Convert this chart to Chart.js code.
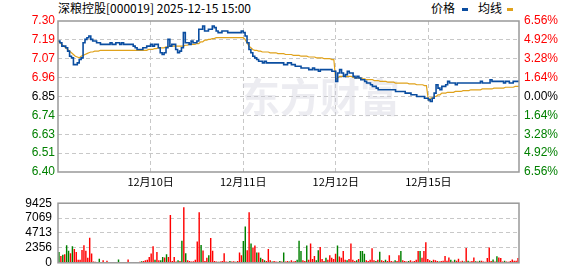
<!DOCTYPE html>
<html><head><meta charset="utf-8">
<script src="https://cdn.jsdelivr.net/npm/chart.js@4"></script>
<style>
body{margin:0;background:#fff;width:578px;height:276px;overflow:hidden;position:relative;font-family:"Noto Sans CJK SC",sans-serif}
.t{position:absolute;font-size:12px;line-height:16px;color:#000;white-space:nowrap}
.mk{position:absolute;width:6px;height:3px}
canvas{position:absolute;left:0}
</style></head><body>
<div class="t" id="title" style="left:58px;top:0px"></div>
<div class="t" id="lg1" style="left:431px;top:0px"></div>
<div class="mk" style="left:462px;top:8px;background:#0a4da0"></div>
<div class="t" id="lg2" style="left:478px;top:0px"></div>
<div class="mk" style="left:507px;top:8px;background:#e0a21c"></div>
<canvas id="pc" width="578" height="190" style="top:0"></canvas>
<canvas id="vc" width="578" height="86" style="top:190px"></canvas>
<script>
const stockTitle = '深粮控股[000019] 2025-12-15 15:00';
const legendNames = ['价格', '均线'];
const dayLabels = ['12月10日', '12月11日', '12月12日', '12月15日'];
const priceTickLabels = ['7.30','7.19','7.07','6.96','6.85','6.74','6.63','6.51','6.40'];
const pctTickLabels = ['6.56%','4.92%','3.28%','1.64%','0.00%','1.64%','3.28%','4.92%','6.56%'];
const volTickLabels = ['0','2356','4713','7069','9425'];
const preClose = 6.85;
const limitPct = 0.0656;
const volMax = 9425;

// 48 samples per trading day (price / average line)
const priceDec09 = [7.18,7.17,7.15,7.15,7.14,7.12,7.09,7.08,7.04,7.04,7.05,7.07,7.08,7.17,7.19,7.20,7.21,7.19,7.18,7.18,7.17,7.17,7.16,7.16,7.16,7.16,7.16,7.17,7.16,7.16,7.17,7.17,7.16,7.17,7.16,7.16,7.16,7.16,7.16,7.15,7.14,7.13,7.13,7.13,7.14,7.14,7.15,7.15];
const priceDec10 = [7.16,7.15,7.16,7.16,7.14,7.11,7.10,7.11,7.14,7.19,7.15,7.16,7.16,7.13,7.11,7.12,7.14,7.23,7.17,7.17,7.16,7.18,7.17,7.17,7.18,7.25,7.25,7.27,7.24,7.24,7.25,7.25,7.27,7.26,7.24,7.23,7.23,7.24,7.24,7.24,7.23,7.23,7.23,7.23,7.23,7.23,7.23,7.24];
const priceDec11 = [7.23,7.21,7.17,7.13,7.11,7.09,7.08,7.07,7.06,7.06,7.05,7.06,7.05,7.05,7.05,7.05,7.05,7.05,7.05,7.05,7.05,7.04,7.04,7.05,7.05,7.04,7.04,7.03,7.03,7.03,7.02,7.02,7.02,7.02,7.01,7.01,7.02,7.01,7.01,7.00,7.01,7.01,7.01,7.01,7.01,7.01,7.00,7.00];
const priceDec12 = [6.94,6.99,7.01,6.99,6.97,6.98,7.00,6.99,6.99,6.97,6.96,6.97,6.96,6.95,6.95,6.94,6.93,6.93,6.92,6.91,6.91,6.90,6.89,6.89,6.89,6.89,6.89,6.89,6.89,6.89,6.89,6.88,6.88,6.88,6.88,6.88,6.87,6.87,6.87,6.86,6.86,6.86,6.85,6.85,6.85,6.85,6.84,6.84];
const priceDec15 = [6.83,6.82,6.84,6.87,6.92,6.90,6.89,6.91,6.91,6.92,6.94,6.93,6.93,6.93,6.92,6.93,6.93,6.93,6.93,6.93,6.93,6.93,6.93,6.93,6.93,6.93,6.93,6.94,6.93,6.93,6.93,6.93,6.95,6.94,6.94,6.94,6.94,6.94,6.94,6.93,6.94,6.94,6.93,6.93,6.94,6.94,6.94,6.94];

const avgDec09 = [7.18,7.17,7.16,7.15,7.14,7.13,7.12,7.11,7.10,7.09,7.085,7.08,7.09,7.095,7.10,7.105,7.11,7.115,7.115,7.12,7.12,7.12,7.125,7.125,7.125,7.125,7.125,7.125,7.125,7.125,7.125,7.125,7.125,7.125,7.125,7.125,7.125,7.125,7.125,7.125,7.125,7.125,7.125,7.125,7.125,7.125,7.125,7.13];
const avgDec10 = [7.13,7.13,7.135,7.135,7.14,7.14,7.14,7.14,7.145,7.145,7.15,7.15,7.15,7.15,7.15,7.15,7.15,7.15,7.155,7.155,7.16,7.16,7.16,7.16,7.165,7.165,7.175,7.175,7.185,7.185,7.19,7.19,7.195,7.195,7.20,7.20,7.20,7.20,7.20,7.20,7.20,7.20,7.20,7.20,7.20,7.20,7.20,7.20];
const avgDec11 = [7.20,7.19,7.17,7.15,7.14,7.13,7.125,7.125,7.12,7.12,7.115,7.115,7.115,7.115,7.11,7.11,7.11,7.11,7.105,7.105,7.105,7.105,7.10,7.10,7.10,7.10,7.095,7.095,7.095,7.095,7.09,7.09,7.09,7.09,7.085,7.085,7.085,7.085,7.08,7.08,7.08,7.08,7.075,7.075,7.075,7.075,7.07,7.07];
const avgDec12 = [6.95,6.96,6.97,6.97,6.97,6.97,6.97,6.97,6.97,6.965,6.96,6.96,6.96,6.96,6.955,6.955,6.95,6.95,6.95,6.95,6.945,6.945,6.945,6.94,6.94,6.94,6.94,6.935,6.935,6.935,6.935,6.93,6.93,6.93,6.93,6.93,6.93,6.93,6.925,6.925,6.925,6.925,6.92,6.92,6.92,6.92,6.915,6.915];
const avgDec15 = [6.83,6.84,6.84,6.85,6.85,6.86,6.86,6.87,6.87,6.87,6.875,6.875,6.875,6.875,6.88,6.88,6.88,6.88,6.885,6.885,6.885,6.885,6.89,6.89,6.89,6.89,6.89,6.89,6.895,6.895,6.895,6.895,6.895,6.895,6.90,6.90,6.90,6.90,6.90,6.90,6.905,6.905,6.905,6.905,6.905,6.91,6.91,6.91];

const volDec09 = [1700,1060,1275,1360,2760,1900,1500,2630,2200,1700,500,500,2040,2760,1900,800,3950,1490,200,150,100,640,100,420,100,340,100,80,100,60,100,510,80,100,60,100,510,80,100,60,120,100,150,250,300,420,500,935];
const volDec10 = [1490,2630,500,1700,420,420,935,850,1360,935,7560,300,900,200,400,300,3500,8770,1510,400,300,200,250,500,3370,8000,2800,1940,300,800,1200,3930,1900,300,200,150,200,300,1500,200,150,300,200,250,150,300,1640,1200];
const volDec11 = [3450,5750,2000,8000,3070,2400,2720,1640,1640,800,600,400,300,2200,400,200,300,200,150,300,200,1640,200,300,200,400,200,300,500,3500,1860,400,300,2720,500,3070,600,1080,400,1990,2500,600,300,780,500,1210,800,600];
const volDec12 = [1430,2720,1000,800,1860,500,400,600,3070,500,300,400,600,1860,1860,1430,400,300,500,2290,400,300,500,1730,400,300,500,300,1210,300,200,400,300,1210,1860,400,300,200,300,400,200,300,500,1860,1860,800,1860,3240];
const volDec15 = [600,400,300,500,400,300,200,300,340,1060,340,850,500,200,500,340,640,200,340,200,2340,340,200,300,850,250,200,340,340,200,150,765,2420,300,510,200,1020,850,765,200,340,200,150,300,510,340,340,765];
// r = up (red), g = down (green)
const dirDec09 = 'grgrggrgrr'+'rrrrrrrrrr'+'ggrrrrrgrr'+'rgrgrrrrgr'+'rgrgrrrr';
const dirDec10 = 'rrgrrggrgr'+'rrrrgrgrgr'+'rrrrrrgrrr'+'grrrrgrrrr'+'rgrrgrrr';
const dirDec11 = 'ggrrgrrgrg'+'rgrrrgrrrg'+'rgrrgrrrgg'+'grrgrrrrgg'+'rrrgrrrr';
const dirDec12 = 'rgrrrrgrrr'+'rgrgggrrrr'+'rgrgrrgrrr'+'rgrrgrrrgr'+'rrrrgrrr';
const dirDec15 = 'rrgrrrgrrr'+'rrgrgrrrrg'+'rgrrrgrgrr'+'rrrrgrgrrr'+'grrrrrrr';

const perDay = 48;
const price = [].concat(priceDec09, priceDec10, priceDec11, priceDec12, priceDec15);
const avg = [].concat(avgDec09, avgDec10, avgDec11, avgDec12, avgDec15);
const vol = [].concat(volDec09, volDec10, volDec11, volDec12, volDec15);
const dir = (dirDec09 + dirDec10 + dirDec11 + dirDec12 + dirDec15).split('');

document.getElementById('title').textContent = stockTitle;
document.getElementById('lg1').textContent = legendNames[0];
document.getElementById('lg2').textContent = legendNames[1];

const RED = '#ff0000', GREEN = '#008000', GRID = '#c8c8c8';
const numFont = {family: '"Liberation Sans", Arial, sans-serif', size: 12};
const cjkFont = {family: '"Noto Sans CJK SC", sans-serif', size: 11};

const frame = {
  id: 'frame',
  afterDraw(c) {
    const a = c.chartArea, ctx = c.ctx;
    ctx.save(); ctx.strokeStyle = '#999'; ctx.lineWidth = 1.5;
    ctx.strokeRect(a.left, a.top, a.right - a.left, a.bottom - a.top);
    ctx.restore();
  }
};
const watermark = {
  id: 'watermark',
  beforeDatasetsDraw(c) {
    const ctx = c.ctx; ctx.save();
    ctx.fillStyle = 'rgba(205,205,218,0.38)';
    ctx.font = 'bold 40px "Noto Sans CJK SC"';
    ctx.textBaseline = 'middle';
    ctx.fillText('东方财富', 240, 97);
    ctx.restore();
  }
};

const pMin = preClose * (1 - limitPct), pMax = preClose * (1 + limitPct);
const levelColor = (k) => k > 4 ? RED : (k === 4 ? '#000' : GREEN);

new Chart(document.getElementById('pc'), {
  type: 'line',
  data: {
    datasets: [
      {data: price.map((v, i) => ({x: i, y: v})), borderColor: '#0a4da0', borderWidth: 1.6, pointRadius: 0, stepped: true, yAxisID: 'y'},
      {data: avg.map((v, i) => ({x: i, y: v})), borderColor: '#e0a21c', borderWidth: 1.2, pointRadius: 0, yAxisID: 'y'}
    ]
  },
  options: {
    responsive: false, animation: false, events: [],
    layout: {padding: {top: 21, left: 0, right: 0, bottom: 0}},
    plugins: {legend: {display: false}, tooltip: {enabled: false}},
    scales: {
      x: {
        type: 'linear', min: 0, max: price.length - 1,
        afterBuildTicks: s => { s.ticks = dayLabels.map((d, i) => ({value: (i + 1) * perDay})); },
        afterFit: s => { s.height = 18; },
        ticks: {callback: (v, i) => dayLabels[i], color: '#000', font: cjkFont, padding: 3, maxRotation: 0, autoSkip: false},
        grid: {color: GRID, drawTicks: false, lineWidth: 1},
        border: {display: false, dash: [4, 3]}
      },
      y: {
        position: 'left', min: pMin, max: pMax,
        afterBuildTicks: s => { s.ticks = priceTickLabels.map((t, k) => ({value: preClose * (1 + (k - 4) * limitPct / 4)})); },
        afterFit: s => { s.width = 58; },
        ticks: {callback: (v, i) => priceTickLabels[8 - i], color: c => levelColor(c.index), font: numFont, padding: 3, autoSkip: false},
        grid: {color: c => (c.index === 0 || c.index === 8) ? 'rgba(0,0,0,0)' : GRID, drawTicks: false},
        border: {display: false, dash: [4, 3]}
      },
      y2: {
        position: 'right', min: pMin, max: pMax,
        afterBuildTicks: s => { s.ticks = pctTickLabels.map((t, k) => ({value: preClose * (1 + (k - 4) * limitPct / 4)})); },
        afterFit: s => { s.width = 59; },
        ticks: {callback: (v, i) => pctTickLabels[8 - i], color: c => levelColor(c.index), font: numFont, padding: 5, autoSkip: false},
        grid: {display: false, drawTicks: false},
        border: {display: false}
      }
    }
  },
  plugins: [watermark, frame]
});

new Chart(document.getElementById('vc'), {
  type: 'bar',
  data: {
    datasets: [{
      data: vol.map((v, i) => ({x: i, y: v})),
      backgroundColor: dir.map(d => d === 'r' ? RED : GREEN),
      barPercentage: 0.75, categoryPercentage: 1, borderWidth: 0
    }]
  },
  options: {
    responsive: false, animation: false, events: [],
    layout: {padding: {top: 6, left: 0, right: 59, bottom: 7}},
    plugins: {legend: {display: false}, tooltip: {enabled: false}},
    scales: {
      x: {type: 'linear', min: -0.5, max: vol.length - 0.5, display: false, offset: false},
      y: {
        min: 0, max: volMax,
        afterBuildTicks: s => { s.ticks = volTickLabels.map(t => ({value: Number(t)})); },
        afterFit: s => { s.width = 58; },
        ticks: {callback: (v, i) => volTickLabels[i], color: '#000', font: numFont, padding: 6, autoSkip: false},
        grid: {color: c => (c.index === 0 || c.index === 4) ? 'rgba(0,0,0,0)' : GRID, drawTicks: false},
        border: {display: false, dash: [4, 3]}
      }
    }
  },
  plugins: [frame]
});
</script>
</body></html>
